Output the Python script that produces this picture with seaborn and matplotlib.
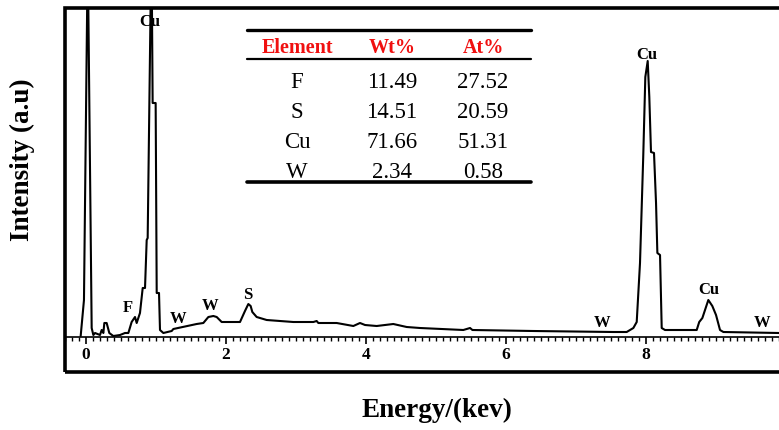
import numpy as np
import pandas as pd
import seaborn as sns
import matplotlib.pyplot as plt
from matplotlib.patches import Rectangle
from matplotlib.lines import Line2D
from matplotlib.ticker import MultipleLocator, FixedLocator

# EDS spectrum (energy in keV, intensity in arbitrary units)
energy = [-0.076, -0.029, 0.025, 0.081, 0.105, 0.129, 0.2, 0.224, 0.248, 0.262,
          0.295, 0.333, 0.39, 0.486, 0.557, 0.605, 0.652, 0.7, 0.724, 0.771,
          0.81, 0.843, 0.867, 0.881, 0.935, 0.952, 0.995, 1.01, 1.043, 1.057,
          1.105, 1.224, 1.248, 1.581, 1.676, 1.748, 1.819, 1.867, 1.938, 2.2,
          2.271, 2.319, 2.352, 2.376, 2.438, 2.581, 2.962, 3.248, 3.295, 3.319,
          3.581, 3.819, 3.914, 3.986, 4.152, 4.39, 4.581, 4.771, 5.39, 5.486,
          5.52, 6.39, 7.533, 7.724, 7.819, 7.867, 7.914, 7.96, 7.99, 8.024,
          8.047, 8.071, 8.114, 8.143, 8.162, 8.2, 8.224, 8.271, 8.724, 8.76,
          8.805, 8.89, 8.947, 9.0, 9.057, 9.105, 9.9, 10.3]
intensity = [1, 37, 385, 9, 2, 4, 2, 7, 4, 14,
             14, 4, 1, 2, 4, 4, 15, 20, 14, 24,
             49, 49, 97, 99, 400, 234, 234, 44, 44, 7,
             4, 6, 8, 13, 14, 20, 21, 20, 15, 15,
             26, 33, 31, 25, 20, 17, 15, 15, 16, 14,
             14, 11, 14, 12, 11, 13, 10, 9, 7, 9,
             7, 6, 5, 5, 9, 15, 74, 180, 260, 276,
             240, 185, 184, 134, 84, 82, 9, 7, 7, 15,
             19, 37, 31, 22, 7, 5, 4, 4]

# peak identifications
peak_names = ['Cu', 'F', 'W', 'W', 'S', 'W', 'Cu', 'Cu', 'W']
peak_energy = [0.914, 0.604, 1.319, 1.771, 2.304, 7.367, 8.01, 8.89, 9.653]
peak_label_y = [315, 29, 18, 31, 42, 14, 282, 47, 14]

energy_ticks = [0, 2, 4, 6, 8]

# composition table
elements = ['F', 'S', 'Cu', 'W']
wt_pct = ['11.49', '14.51', '71.66', '2.34']
at_pct = ['27.52', '20.59', '51.31', '0.58']
headers = ['Element', 'Wt%', 'At%']

sns.set_style('white')
plt.rcParams['font.family'] = ['Liberation Serif', 'DejaVu Serif']
plt.rcParams['text.color'] = 'black'
plt.rcParams['xtick.color'] = 'black'

W, H = 779, 430
fig = plt.figure(figsize=(W / 100, H / 100), dpi=100)


def fx(px):
    return px / W


def fy(py):
    return 1 - py / H


# axes runs past the right edge of the figure, as in the original crop
ax = fig.add_axes([fx(65), fy(372), fx(805) - fx(65), fy(8) - fy(372)])
df = pd.DataFrame({'energy': energy, 'intensity': intensity})
sns.lineplot(data=df, x='energy', y='intensity', sort=False, estimator=None,
             color='black', lw=1.5, ax=ax)
ax.set_xlim(-0.3, 10.271)
ax.set_ylim(-35, 329)

for s in ['left', 'top', 'right']:
    ax.spines[s].set_visible(False)
ax.spines['bottom'].set_position(('data', 0))
ax.spines['bottom'].set_linewidth(1.2)
ax.spines['bottom'].set_color('black')
ax.add_patch(Rectangle((0, 0), 1, 1, transform=ax.transAxes, fill=False,
                       lw=2.6, ec='black', clip_on=False))

ax.xaxis.set_major_locator(FixedLocator(energy_ticks))
ax.xaxis.set_minor_locator(MultipleLocator(0.1))
ax.tick_params(axis='x', which='major', direction='out', length=5, width=1.2,
               color='black', labelsize=12.5, pad=2, bottom=True,
               labelcolor='black')
ax.tick_params(axis='x', which='minor', direction='out', length=3, width=1,
               color='black', bottom=True)
ax.set_yticks([])
for t in ax.get_xticklabels():
    t.set_fontweight('bold')
ax.set_xlabel('')
ax.set_ylabel('')

for name, e, y in zip(peak_names, peak_energy, peak_label_y):
    ax.text(e, y, name, ha='center', va='center', fontsize=12,
            fontweight='bold')

fig.text(fx(437), fy(410), 'Energy/(kev)', ha='center', va='center',
         fontsize=19.5, fontweight='bold')
fig.text(fx(22), fy(160), 'Intensity (a.u)', ha='center', va='center',
         rotation=90, fontsize=19.5, fontweight='bold')

# table
col_x = [297, 392, 483]
for cx, h in zip(col_x, headers):
    fig.text(fx(cx), fy(48), h, ha='center', va='center', fontsize=14.5,
             fontweight='bold', color='#f01010')
row_y = [82, 112, 142, 172]
for ry, el, w, a in zip(row_y, elements, wt_pct, at_pct):
    for cx, val in zip(col_x, [el, w, a]):
        fig.text(fx(cx), fy(ry), val, ha='center', va='center', fontsize=16.5)

for py, lw in [(30, 2.4), (59, 1.6), (182, 2.6)]:
    fig.add_artist(Line2D([fx(247), fx(531)], [fy(py), fy(py)],
                          transform=fig.transFigure, color='black', lw=lw))

fig.savefig('out.png', dpi=100)
